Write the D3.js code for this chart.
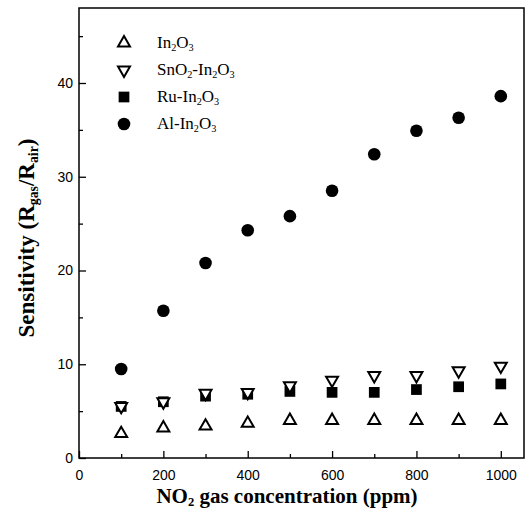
<!DOCTYPE html>
<html>
<head>
<meta charset="utf-8">
<script src="https://cdn.jsdelivr.net/npm/d3@7"></script>
<style>
body { margin: 0; background: #fff; }
</style>
</head>
<body>
<div class="chart"></div>
<script>
var conc = [100, 200, 300, 400, 500, 600, 700, 800, 900, 1000]
var in2o3 = [2.6, 3.2, 3.4, 3.7, 4.0, 4.0, 4.0, 4.0, 4.0, 4.0]
var sno2 = [5.5, 6.0, 6.9, 7.0, 7.7, 8.3, 8.8, 8.8, 9.3, 9.8]
var ru = [5.5, 6.0, 6.6, 6.8, 7.1, 7.0, 7.0, 7.3, 7.6, 7.9]
var al = [9.5, 15.7, 20.8, 24.3, 25.8, 28.5, 32.4, 34.9, 36.3, 38.6]
var xTicks = [0, 200, 400, 600, 800, 1000]
var yTicks = [0, 10, 20, 30, 40]

var width = 532
var height = 520
var margin = {top: 8, right: 8, bottom: 62, left: 79}

var svg = d3.select('.chart')
  .append('svg')
  .attr('width', width)
  .attr('height', height)

var x = d3.scaleLinear().domain([0, 1055]).range([margin.left, width - margin.right])
var y = d3.scaleLinear().domain([0, 48]).range([height - margin.bottom, margin.top])

// frame
svg.append('rect')
  .attr('x', x(0)).attr('y', y(48))
  .attr('width', x(1055) - x(0)).attr('height', y(0) - y(48))
  .style('fill', 'none').style('stroke', '#000').style('stroke-width', 1.5)

// minor ticks
svg.append('g')
  .attr('transform', 'translate(0,' + y(0) + ')')
  .call(d3.axisBottom(x).tickValues(d3.range(100, 1001, 200)).tickSize(-4).tickFormat(''))
  .call(g => g.select('.domain').remove())
svg.append('g')
  .attr('transform', 'translate(' + x(0) + ',0)')
  .call(d3.axisLeft(y).tickValues(d3.range(5, 46, 10)).tickSize(-4).tickFormat(''))
  .call(g => g.select('.domain').remove())

var xAxis = svg.append('g')
  .attr('transform', 'translate(0,' + y(0) + ')')
  .call(d3.axisBottom(x).tickValues(xTicks).tickSize(-7).tickPadding(12).tickFormat(d3.format('d')))
xAxis.select('.domain').remove()
xAxis.selectAll('text').style('font-family', 'Liberation Sans, Arial, sans-serif').style('font-size', '14px')

var yAxis = svg.append('g')
  .attr('transform', 'translate(' + x(0) + ',0)')
  .call(d3.axisLeft(y).tickValues(yTicks).tickSize(-7).tickPadding(6))
yAxis.select('.domain').remove()
yAxis.selectAll('text').style('font-family', 'Liberation Sans, Arial, sans-serif').style('font-size', '14px')

svg.selectAll('.tick line').style('stroke-width', 1.3)

function addSub(t, parts) {
  parts.forEach(function (p) {
    var s = t.append('tspan').text(p[0])
    if (p[1]) s.attr('baseline-shift', '-25%').style('font-size', '0.6em')
  })
}

var series = [
  {name: [['In'], ['2', 1], ['O'], ['3', 1]], vals: in2o3, type: 'up'},
  {name: [['SnO'], ['2', 1], ['-In'], ['2', 1], ['O'], ['3', 1]], vals: sno2, type: 'down'},
  {name: [['Ru-In'], ['2', 1], ['O'], ['3', 1]], vals: ru, type: 'square'},
  {name: [['Al-In'], ['2', 1], ['O'], ['3', 1]], vals: al, type: 'circle'}
]

function drawMarker(g, type, cx, cy) {
  if (type === 'up' || type === 'down') {
    g.append('path')
      .attr('d', d3.symbol().type(d3.symbolTriangle).size(62)())
      .attr('transform', 'translate(' + cx + ',' + cy + ')' + (type === 'down' ? ' rotate(180)' : ''))
      .style('fill', '#fff').style('stroke', '#000').style('stroke-width', 2)
  } else if (type === 'square') {
    g.append('path')
      .attr('d', d3.symbol().type(d3.symbolSquare).size(115)())
      .attr('transform', 'translate(' + cx + ',' + cy + ')')
      .style('fill', '#000')
  } else {
    g.append('circle').attr('cx', cx).attr('cy', cy).attr('r', 6.3).style('fill', '#000')
  }
}

var marks = svg.append('g')
// squares first, then the open triangles on top
var order = [3, 2, 1, 0]
order.forEach(function (i) {
  var s = series[i]
  s.vals.forEach(function (v, j) {
    drawMarker(marks, s.type, x(conc[j]), y(v))
  })
})

// legend
var legend = svg.append('g')
series.forEach(function (s, i) {
  var ly = 43 + i * 27
  drawMarker(legend, s.type, 124, ly)
  var t = legend.append('text')
    .attr('x', 157).attr('y', ly + 5)
    .style('font-family', 'Liberation Serif, Times New Roman, serif')
    .style('font-size', '17px')
  addSub(t, s.name)
})

// axis titles
var xt = svg.append('text')
  .attr('x', 287).attr('y', 503)
  .attr('text-anchor', 'middle')
  .style('font-family', 'Liberation Serif, Times New Roman, serif')
  .style('font-weight', 'bold').style('font-size', '21px')
addSub(xt, [['NO'], ['2', 1], [' gas concentration (ppm)']])

var yt = svg.append('text')
  .attr('transform', 'translate(34,238) rotate(-90)')
  .attr('text-anchor', 'middle')
  .style('font-family', 'Liberation Serif, Times New Roman, serif')
  .style('font-weight', 'bold').style('font-size', '23px')
addSub(yt, [['Sensitivity (R'], ['gas', 1], ['/R'], ['air', 1], [')']])
</script>
</body>
</html>
